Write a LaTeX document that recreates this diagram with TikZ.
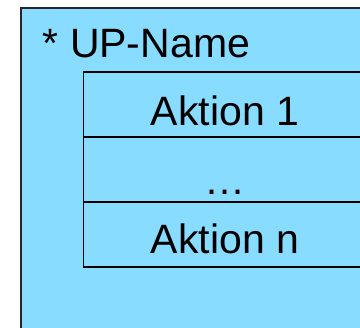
\documentclass[tikz,border=0pt]{standalone}
\usepackage{fontspec}
\setmainfont{Liberation Sans}
\usepackage{tikz}
\usetikzlibrary{positioning}
\definecolor{upBlue}{RGB}{136,220,255}

\begin{document}
\begin{tikzpicture}[
  x=1pt, y=-1pt,
  every node/.style={font=\fontsize{41}{48}\selectfont},
  frame/.style={draw=black!85,fill=upBlue,line width=1.8pt},
  rowbox/.style={draw=black,line width=1.4pt,minimum width=283pt,minimum height=65pt,
    inner sep=0pt,anchor=north west,outer sep=0pt},
  txt/.style={anchor=base,inner sep=0pt}
]
  \useasboundingbox (0,0) rectangle (360,328);
  \clip (0,0) rectangle (360,328);

  % outer use-case frame, runs past the page edge
  \node[frame,minimum width=360pt,minimum height=340pt,anchor=north west,inner sep=0pt] (up) at (20,7) {};
  \node[txt,anchor=base west] (upname) at (42.5,58) {* UP-Name};

  % stacked action rows
  \node[rowbox] (row1) at (83.5,72) {};
  \node[rowbox,below=0pt of row1.south west,anchor=north west] (row2) {};
  \node[rowbox,below=0pt of row2.south west,anchor=north west] (row3) {};

  \node[txt] (a1) at (225,126) {Aktion 1};
  \node[txt] (dots) at (225,195) {…};
  \node[txt] (an) at (225,254) {Aktion n};
\end{tikzpicture}
\end{document}
